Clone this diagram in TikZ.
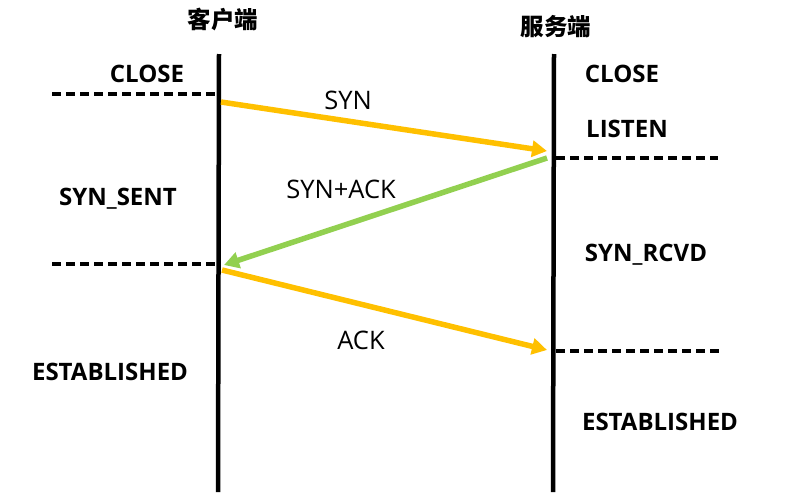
\documentclass[tikz,border=0pt]{standalone}
\usepackage{fontspec}
\setmainfont{Open Sans}
\newfontfamily\cjkfont{Noto Sans CJK SC}
\usetikzlibrary{arrows.meta}
\definecolor{synorange}{HTML}{FFC000}
\definecolor{ackgreen}{HTML}{92D050}
\tikzset{
  lifeline/.style={line width=4.5pt, black},
  stateline/.style={line width=3.4pt, black, dash pattern=on 9pt off 5pt},
  msg/.style={line width=5.5pt, -{Triangle[length=15pt,width=16pt]}},
  state/.style={font=\fontsize{24}{28}\selectfont\bfseries, anchor=base, inner sep=0pt},
  msglabel/.style={font=\fontsize{25.5}{29}\selectfont, anchor=base, inner sep=0pt},
  title/.style={font=\cjkfont\fontsize{23.5}{27}\selectfont\bfseries, inner sep=0pt},
}
\begin{document}
\begin{tikzpicture}[x=1pt,y=-1pt]
\useasboundingbox (0,0) rectangle (800,498);
% titles
\node[title] (ctitle) at (223,20) {客户端};
\node[title] (stitle) at (556,27) {服务端};
% lifelines
\coordinate (ctop) at (219,54);
\coordinate (cbot) at (218,492);
\coordinate (stop) at (554,54);
\coordinate (sbot) at (553,492);
\draw[lifeline] (ctop) -- (cbot);
\draw[lifeline] (stop) -- (sbot);
% state separators
\coordinate (cd1a) at (52,94);   \coordinate (cd1b) at (218,94);
\coordinate (cd2a) at (52,264);  \coordinate (cd2b) at (218,264);
\coordinate (sd1a) at (556,158); \coordinate (sd1b) at (718,158);
\coordinate (sd2a) at (556,351); \coordinate (sd2b) at (720,351);
\draw[stateline] (cd1a) -- (cd1b);
\draw[stateline] (cd2a) -- (cd2b);
\draw[stateline] (sd1a) -- (sd1b);
\draw[stateline] (sd2a) -- (sd2b);
% messages
\coordinate (syn1) at (221,102);  \coordinate (syn2) at (547,151);
\coordinate (sa1) at (547,158);   \coordinate (sa2) at (224,265);
\coordinate (ack1) at (222,270);  \coordinate (ack2) at (547,350);
\draw[msg, synorange] (syn1) -- (syn2);
\draw[msg, ackgreen] (sa1) -- (sa2);
\draw[msg, synorange] (ack1) -- (ack2);
% message labels
\node[msglabel] (lsyn) at (348,109) {SYN};
\node[msglabel] (lsa) at (341,198) {SYN+ACK};
\node[msglabel] (lack) at (361,349) {ACK};
% states
\node[state] (cclose) at (147,82) {CLOSE};
\node[state] (csent) at (118,205) {SYN\_SENT};
\node[state] (cest) at (110,380) {ESTABLISHED};
\node[state] (sclose) at (622,82) {CLOSE};
\node[state] (slisten) at (627,137) {LISTEN};
\node[state] (srcvd) at (646,261) {SYN\_RCVD};
\node[state] (sest) at (660,430) {ESTABLISHED};
\end{tikzpicture}
\end{document}
